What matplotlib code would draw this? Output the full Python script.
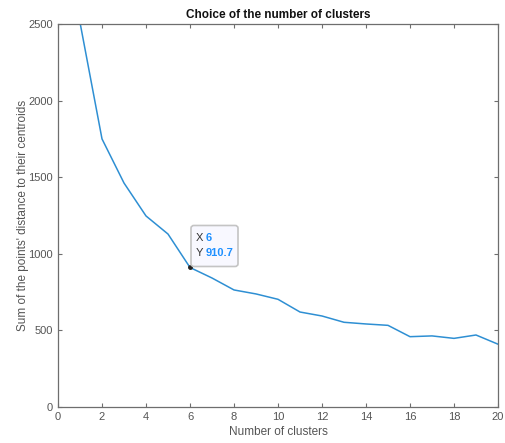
import numpy as np
import matplotlib.pyplot as plt
from matplotlib.patches import FancyBboxPatch

plt.rcParams['font.family'] = ['Liberation Sans', 'DejaVu Sans']

# within-cluster distance sums for k = 1..20
n_clusters = list(range(1, 21))
sum_dist = [2510, 1750, 1462, 1247, 1129, 910.7, 842, 764, 738, 703,
            620, 594, 553, 542, 533, 459, 464, 448, 470, 410]

tip_x = 6
tip_y = 910.7

axis_col = '#6e6e6e'
text_col = '#555555'

fig = plt.figure(figsize=(5.05, 4.43), dpi=100)
ax = fig.add_axes([58 / 505, 1 - 407 / 443, 440 / 505, 383 / 443])

ax.plot(n_clusters, sum_dist, color='#2e8fd3', lw=1.1, clip_on=True)
ax.plot([tip_x], [tip_y], 'o', ms=2.5, color='#222222', zorder=5)

ax.set_xlim(0, 20)
ax.set_ylim(0, 2500)
ax.set_xticks(np.arange(0, 21, 2))
ax.set_yticks(np.arange(0, 2501, 500))

ax.tick_params(direction='in', length=3, width=0.8, colors=axis_col,
               labelcolor=text_col, labelsize=8, top=True, right=True)
for sp in ax.spines.values():
    sp.set_color(axis_col)
    sp.set_linewidth(0.9)

ax.set_title('Choice of the number of clusters', fontsize=8.5,
             fontweight='bold', color='#111111', pad=4)
ax.set_xlabel('Number of clusters', fontsize=8.5, color=text_col, labelpad=3)
ax.set_ylabel("Sum of the points' distance to their centroids", fontsize=8.5,
              color=text_col, labelpad=0)

# data tip box
tx, ty = ax.transData.transform((tip_x, tip_y))
inv = fig.transFigure.inverted()
x0, y0 = inv.transform((tx + 1, ty + 1))
bw, bh = 47 / 505, 41 / 443
box = FancyBboxPatch((x0, y0), bw, bh, transform=fig.transFigure,
                     boxstyle='round,pad=0,rounding_size=0.006',
                     fc='#f8f8ff', ec='#c4c4c4', lw=1.2, zorder=6)
fig.patches.append(box)
lx = x0 + 5 / 505
vx = lx + 10 / 505
fig.text(lx, y0 + 28 / 443, 'X', fontsize=8, color='#333333',
         va='center', zorder=7)
fig.text(vx, y0 + 28 / 443, f'{tip_x}', fontsize=8,
         color='#1e90ff', fontweight='bold', va='center', zorder=7)
fig.text(lx, y0 + 13 / 443, 'Y', fontsize=8, color='#333333',
         va='center', zorder=7)
fig.text(vx, y0 + 13 / 443, f'{tip_y}', fontsize=8,
         color='#1e90ff', fontweight='bold', va='center', zorder=7)

fig.savefig('out.png', dpi=100)
